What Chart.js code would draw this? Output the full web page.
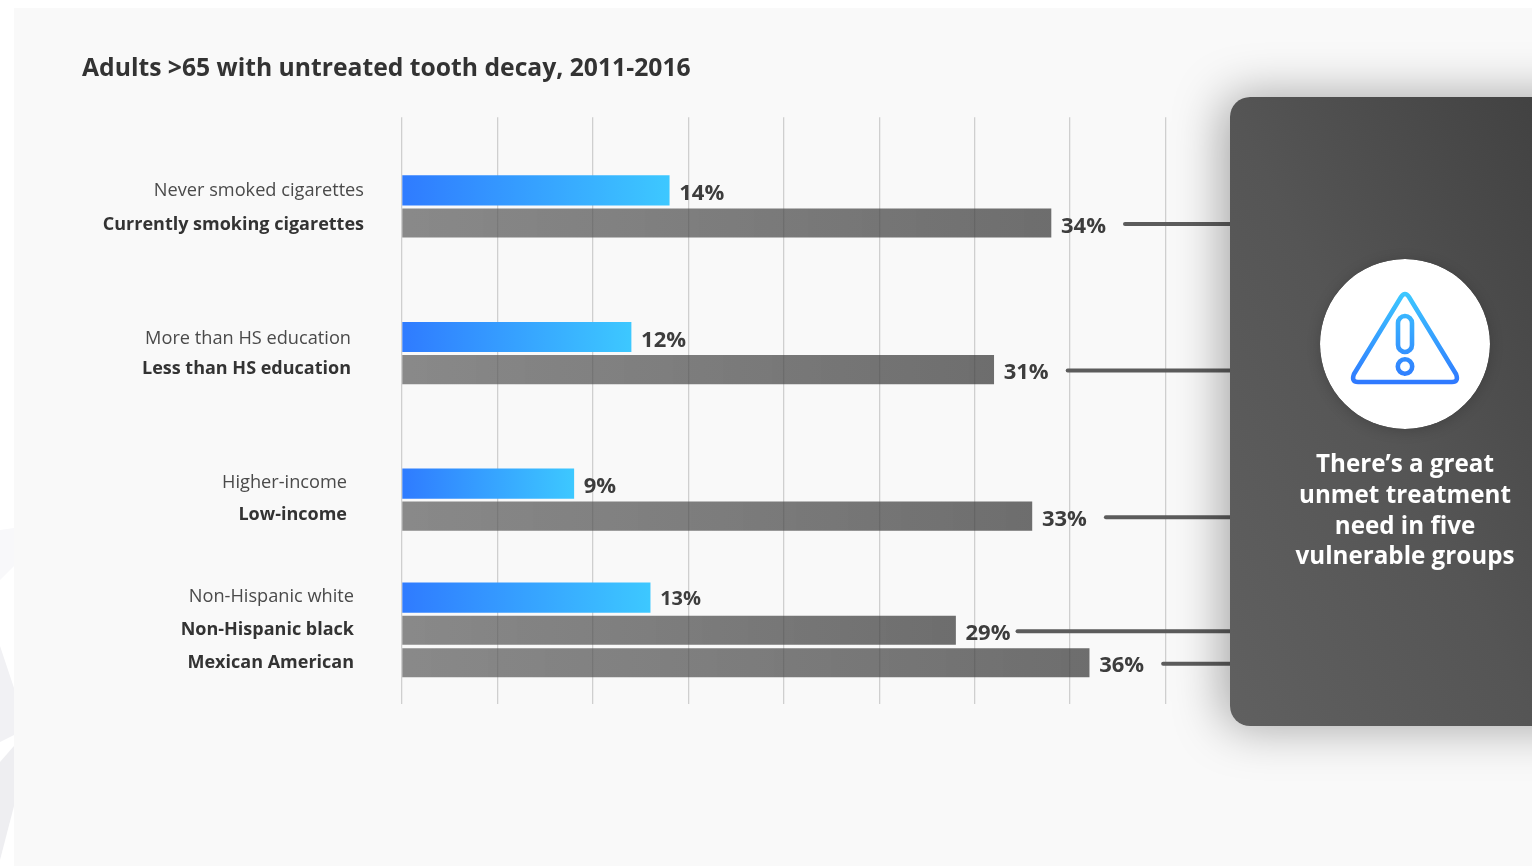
<!DOCTYPE html>
<html>
<head>
<meta charset="utf-8">
<title>Adults >65 with untreated tooth decay</title>
<script src="https://cdn.jsdelivr.net/npm/chart.js@4"></script>
<style>
  html, body { margin: 0; height: 100%; background: #fff; overflow: hidden; }
  #sheet { position: absolute; left: 14px; top: 8px; right: 0; bottom: -2px; background: #f9f9f9; }
  #blobs { position: absolute; left: 0; top: 0; }
  #line-chart { position: absolute; left: 0; top: 0; }
  #panel {
    position: absolute; left: 1230px; top: 97px; width: 400px; height: 629px;
    border-radius: 20px;
    background: linear-gradient(64deg, #606060 0%, #555 43%, #424242 86%);
    box-shadow: -6px 0 50px rgba(0,0,0,.36);
  }
  #badge {
    position: absolute; left: 1320px; top: 259px; width: 170px; height: 170px;
    border-radius: 50%; box-shadow: 0 2px 14px rgba(0,0,0,.18);
  }
  #message {
    position: absolute; left: 1280px; top: 448px; width: 250px; text-align: center;
    font: 700 24.2px/30.8px "Open Sans", sans-serif; color: #fff;
  }
</style>
</head>
<body>
<svg id="blobs" width="14" height="866">
  <polygon points="0,530 14,528 14,566 0,580" fill="#f8f8fa"/>
  <polygon points="0,646 14,688 14,735 0,742" fill="#f1f1f4"/>
  <polygon points="0,762 14,746 14,806 0,860" fill="#eeeef1"/>
</svg>
<div id="sheet"></div>
<canvas id="line-chart" width="1532" height="866"></canvas>
<div id="panel"></div>
<svg id="badge" viewBox="0 0 170 170">
  <defs>
    <linearGradient id="warnUse" gradientUnits="userSpaceOnUse" x1="0" y1="34" x2="0" y2="125">
      <stop offset="0" stop-color="#3dc8ff"/>
      <stop offset="1" stop-color="#2f78ff"/>
    </linearGradient>
  </defs>
  <circle cx="85" cy="85" r="85" fill="#fff"/>
  <path d="M81 38 Q85 32 89 38 L136 115 Q139 123 132 123 L38 123 Q31 123 34 115 Z" fill="none" stroke="url(#warnUse)" stroke-width="4.6"/>
  <rect x="78" y="57" width="14" height="36" rx="7" fill="none" stroke="url(#warnUse)" stroke-width="4.6"/>
  <circle cx="85" cy="107.5" r="7.2" fill="none" stroke="url(#warnUse)" stroke-width="4.6"/>
</svg>
<div id="message">There’s a great<br>unmet treatment<br>need in five<br>vulnerable groups</div>

<script>
const chartTitle = 'Adults >65 with untreated tooth decay, 2011-2016';

// empty rows keep the four groups apart on the category axis
const rowLabels = [
  '', '', '', '',
  'Never smoked cigarettes', '', 'Currently smoking cigarettes',
  '', '', '', '', '', '',
  'More than HS education', '', 'Less than HS education',
  '', '', '', '', '', '',
  'Higher-income', '', 'Low-income',
  '', '', '', '',
  'Non-Hispanic white', '', 'Non-Hispanic black', '', 'Mexican American',
  '', ''
];

const _ = null;
const lowerValues = [
  _, _, _, _,
  14, _, _,
  _, _, _, _, _, _,
  12, _, _,
  _, _, _, _, _, _,
  9, _, _,
  _, _, _, _,
  13, _, _, _, _,
  _, _
];
const higherValues = [
  _, _, _, _,
  _, _, 34,
  _, _, _, _, _, _,
  _, _, 31,
  _, _, _, _, _, _,
  _, _, 33,
  _, _, _, _,
  _, _, 29, _, 36,
  _, _
];

// right edge and small vertical nudge of the row labels
const labelPlace = {
  'Never smoked cigarettes': [364, 0.5], 'Currently smoking cigarettes': [364, 2],
  'More than HS education': [351, 1.5], 'Less than HS education': [351, -1],
  'Higher-income': [347, -0.5], 'Low-income': [347, -1],
  'Non-Hispanic white': [354, -1], 'Non-Hispanic black': [354, -0.5], 'Mexican American': [354, 0.5]
};

const FONT = '"Open Sans", sans-serif';
const INK = '#3d3d3d';

function barGradient(ctx, from, to) {
  const area = ctx.chart.chartArea;
  if (!area || ctx.raw == null) return from;
  const x = ctx.chart.scales.x;
  const end = x.getPixelForValue(ctx.raw);
  const g = ctx.chart.ctx.createLinearGradient(x.left, 0, end, 0);
  g.addColorStop(0, from);
  g.addColorStop(1, to);
  return g;
}

// row labels, value labels and the lines running into the dark panel
const annotate = {
  id: 'annotate',
  afterDatasetsDraw(chart) {
    const { ctx, scales } = chart;
    ctx.save();

    rowLabels.forEach((label, i) => {
      if (!label) return;
      const bold = higherValues[i] != null;
      const [right, nudge] = labelPlace[label];
      ctx.font = (bold ? '700 18px ' : '400 18.2px ') + FONT;
      ctx.fillStyle = bold ? '#333' : '#4a4a4a';
      ctx.textAlign = 'right';
      ctx.textBaseline = 'middle';
      ctx.fillText(label, right, scales.y.getPixelForValue(i) + nudge);
    });

    chart.data.datasets.forEach((set, d) => {
      chart.getDatasetMeta(d).data.forEach((bar, i) => {
        const v = set.data[i];
        if (v == null) return;
        ctx.font = '700 ' + (v === 13 ? 20 : 22) + 'px ' + FONT;
        ctx.fillStyle = INK;
        ctx.textAlign = 'left';
        ctx.textBaseline = 'middle';
        ctx.fillText(v + '%', bar.x + 10, bar.y + (v === 13 ? 1.5 : v === 36 ? 2.5 : 3.5));

        if (d === 1) {
          ctx.strokeStyle = '#5c5c5c';
          ctx.lineWidth = 4;
          ctx.lineCap = 'round';
          ctx.beginPath();
          ctx.moveTo(bar.x + (v === 29 ? 62 : 74), bar.y + 1);
          ctx.lineTo(1240, bar.y + 1);
          ctx.stroke();
        }
      });
    });
    ctx.restore();
  }
};

new Chart(document.getElementById('line-chart'), {
  type: 'bar',
  plugins: [annotate],
  data: {
    labels: rowLabels,
    datasets: [
      {
        data: lowerValues,
        barThickness: 29.5,
        backgroundColor: ctx => barGradient(ctx, '#2f7bff', '#3dc8ff')
      },
      {
        data: higherValues,
        barThickness: 28.5,
        backgroundColor: ctx => barGradient(ctx, 'rgba(90,90,90,.7)', 'rgba(62,62,62,.75)')
      }
    ]
  },
  options: {
    indexAxis: 'y',
    responsive: false,
    animation: false,
    grouped: false,
    layout: { padding: { left: 82, right: 366.5, top: 54, bottom: 162.5 } },
    scales: {
      x: {
        min: 0,
        max: 40,
        ticks: { display: false, stepSize: 5 },
        border: { display: false },
        grid: { color: '#cfcfcf', lineWidth: 1.3, drawTicks: false }
      },
      y: {
        ticks: { display: false },
        border: { display: false },
        grid: { display: false },
        afterFit(scale) { scale.width = 320; }
      }
    },
    plugins: {
      legend: { display: false },
      tooltip: { enabled: false },
      title: {
        display: true,
        text: chartTitle,
        align: 'start',
        color: '#333',
        font: { family: FONT, size: 24.7, weight: '700', lineHeight: 1.2 },
        padding: { top: 0, bottom: 33.5 }
      }
    }
  }
});
</script>
</body>
</html>
